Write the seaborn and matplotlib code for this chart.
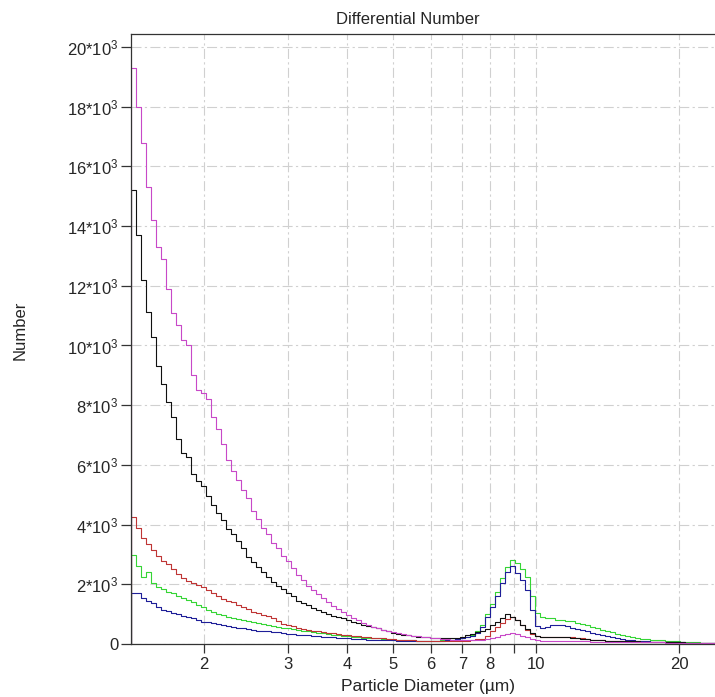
import numpy as np
import pandas as pd
import matplotlib
matplotlib.use("Agg")
import matplotlib.pyplot as plt
from matplotlib.ticker import FixedLocator, FixedFormatter, NullLocator
import seaborn as sns

# ---- data -------------------------------------------------------------
channel_start_um = 1.4044
channel_end_um = 23.82
n_channels = 117

magenta = [19300, 18000, 16800, 15300, 14200, 13300, 12900, 11900, 11100, 10700,
           10200, 10000, 9000, 8500, 8400, 8200, 7600, 7200, 6700, 6150,
           5800, 5500, 5150, 4900, 4450, 4200, 3900, 3700, 3380, 3200,
           2950, 2780, 2550, 2300, 2150, 1950, 1800, 1680, 1530, 1400,
           1280, 1160, 1070, 960, 870, 790, 720, 640, 560, 520,
           480, 430, 400, 360, 320, 300, 280, 260, 245, 230,
           210, 195, 180, 170, 150, 140, 135, 130, 135, 130,
           140, 170, 210, 250, 290, 320, 360, 330, 280, 220,
           170, 120, 110, 100, 105, 100, 95, 95, 90, 90,
           85, 85, 80, 80, 80, 75, 75, 70, 70, 65,
           65, 60, 60, 60, 55, 55, 55, 50, 50, 50,
           45, 45, 45, 40, 40, 40, 40]

black = [15200, 13700, 12200, 11130, 10300, 9300, 8700, 8100, 7600, 6870,
         6400, 6270, 5700, 5450, 5300, 4950, 4650, 4400, 4150, 3850,
         3700, 3450, 3200, 2900, 2750, 2580, 2400, 2250, 2080, 1950,
         1850, 1720, 1620, 1450, 1380, 1300, 1220, 1150, 1080, 990,
         950, 920, 860, 800, 750, 700, 650, 600, 560, 520,
         480, 420, 380, 340, 310, 290, 270, 250, 240, 230,
         215, 200, 190, 190, 190, 210, 230, 300, 350, 400,
         430, 500, 620, 740, 860, 1000, 920, 800, 640, 500,
         360, 280, 225, 230, 245, 250, 240, 225, 200, 185,
         170, 155, 140, 135, 120, 115, 110, 105, 100, 95,
         90, 85, 80, 75, 70, 70, 65, 60, 60, 55,
         55, 50, 50, 45, 45, 40, 40]

red = [4260, 3900, 3550, 3350, 3150, 2950, 2780, 2680, 2500, 2330,
       2200, 2100, 2040, 1960, 1920, 1800, 1700, 1600, 1520, 1450,
       1400, 1320, 1250, 1180, 1080, 1050, 980, 930, 870, 760,
       680, 650, 600, 540, 510, 480, 440, 420, 400, 380,
       360, 330, 310, 300, 280, 260, 250, 230, 210, 200,
       190, 175, 160, 150, 140, 130, 120, 110, 105, 100,
       95, 90, 90, 85, 90, 95, 100, 115, 140, 160,
       170, 270, 420, 560, 715, 830, 915, 820, 640, 480,
       340, 270, 225, 235, 245, 245, 245, 240, 220, 200,
       185, 170, 150, 135, 120, 110, 100, 95, 90, 85,
       80, 75, 70, 70, 65, 60, 60, 55, 55, 50,
       50, 50, 45, 45, 45, 40, 40]

green = [2980, 2600, 2250, 2400, 2050, 1900, 1850, 1750, 1700, 1620,
         1550, 1470, 1400, 1320, 1250, 1150, 1080, 1000, 960, 910,
         870, 830, 800, 770, 730, 700, 670, 640, 610, 580,
         550, 520, 490, 460, 440, 420, 400, 375, 355, 335,
         315, 295, 275, 260, 245, 230, 215, 205, 195, 185,
         175, 160, 150, 140, 135, 125, 120, 115, 110, 110,
         105, 110, 120, 135, 150, 170, 200, 250, 300, 450,
         640, 1000, 1350, 1750, 2200, 2590, 2800, 2700, 2520, 2250,
         1600, 1030, 900, 860, 880, 820, 800, 780, 760, 720,
         660, 620, 560, 520, 480, 430, 400, 350, 310, 280,
         250, 210, 180, 160, 150, 130, 120, 110, 100, 90,
         80, 70, 60, 55, 50, 45, 45]

blue = [1700, 1720, 1530, 1450, 1360, 1250, 1140, 1100, 1050, 1000,
        950, 920, 860, 800, 750, 730, 700, 660, 630, 600,
        580, 550, 520, 490, 470, 450, 440, 430, 410, 390,
        370, 350, 330, 310, 300, 290, 275, 260, 250, 240,
        230, 215, 200, 190, 180, 170, 160, 150, 145, 135,
        130, 125, 120, 115, 110, 105, 100, 95, 95, 90,
        95, 100, 110, 125, 140, 160, 200, 240, 280, 380,
        580, 900, 1250, 1600, 2030, 2420, 2600, 2370, 2150, 1800,
        1140, 600, 525, 580, 620, 640, 630, 590, 550, 500,
        460, 420, 380, 330, 290, 260, 230, 190, 170, 140,
        120, 110, 100, 90, 80, 75, 70, 65, 60, 55,
        55, 50, 50, 45, 45, 40, 40]

series_names = ["green", "blue", "red", "black", "magenta"]
series_values = {"magenta": magenta, "black": black, "red": red,
                 "green": green, "blue": blue}
colors = {"magenta": "#c848c8", "black": "#101010", "red": "#bf3535",
          "green": "#35d535", "blue": "#1e1e98"}

x_ticks = [2, 3, 4, 5, 6, 7, 8, 9, 10, 20]
x_tick_labels = ["2", "3", "4", "5", "6", "7", "8", "", "10", "20"]
y_ticks = [0, 2000, 4000, 6000, 8000, 10000, 12000, 14000, 16000, 18000, 20000]
y_tick_labels = ["0"] + [f"{v // 1000}*10$^{{3}}$" for v in y_ticks[1:]]

# ---- style ------------------------------------------------------------
sns.set_style("white")
plt.rcParams["font.family"] = ["Liberation Sans", "DejaVu Sans"]
plt.rcParams["mathtext.default"] = "regular"

fig = plt.figure(figsize=(7.15, 6.97), dpi=100)
ax = fig.add_axes([131 / 715, 53 / 697, 1 - 131 / 715, (644 - 34) / 697])

edges = np.geomspace(channel_start_um, channel_end_um, n_channels + 1)

for name in series_names:
    vals = series_values[name]
    xs = np.concatenate([[edges[0]], edges])
    ys = np.concatenate([[0.0], vals, [vals[-1]]])
    df = pd.DataFrame({"diameter": xs, "number": ys})
    sns.lineplot(data=df, x="diameter", y="number", ax=ax, color=colors[name],
                 drawstyle="steps-post", estimator=None, sort=False,
                 linewidth=0.8, legend=False)

ax.set_xscale("log")
ax.set_xlim(channel_start_um, channel_end_um)
ax.set_ylim(0, 20435)

ax.xaxis.set_major_locator(FixedLocator(x_ticks))
ax.xaxis.set_major_formatter(FixedFormatter(x_tick_labels))
ax.xaxis.set_minor_locator(NullLocator())
ax.yaxis.set_major_locator(FixedLocator(y_ticks))
ax.yaxis.set_major_formatter(FixedFormatter(y_tick_labels))

ax.grid(True, which="major", color="#d0d0d0", linewidth=0.8,
        linestyle=(0, (9, 3, 2, 3)))
ax.set_axisbelow(True)

ax.tick_params(axis="x", direction="out", length=6.5, width=0.9,
               color="#333333", labelsize=12, pad=3, bottom=True)
ax.tick_params(axis="y", direction="out", length=7.5, width=0.9,
               color="#333333", labelsize=12, pad=1.5, left=True)

for side in ["left", "bottom", "top"]:
    ax.spines[side].set_visible(True)
    ax.spines[side].set_color("#333333")
    ax.spines[side].set_linewidth(0.9)
ax.spines["right"].set_visible(False)

ax.set_xlabel("Particle Diameter (µm)", fontsize=12.5)
ax.xaxis.set_label_coords((428 - 131) / 584, (644 - 679) / 610)
ax.set_ylabel("Number", fontsize=12)
ax.yaxis.set_label_coords((28 - 131) / 584, (644 - 330) / 610)
ax.set_title("Differential Number", fontsize=12,
             x=(408 - 131) / 584, y=(644 - 24) / 610, pad=0)

fig.savefig("out.png", dpi=100)
